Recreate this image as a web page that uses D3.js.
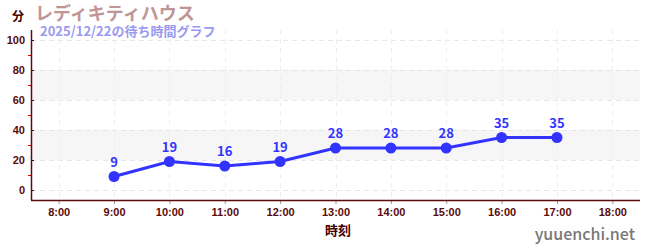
<!DOCTYPE html>
<html>
<head>
<meta charset="utf-8">
<script src="https://cdn.jsdelivr.net/npm/d3@7"></script>
<style>
    body { margin: 0; background: #fff; }
    svg { display: block; font-family: "Noto Sans CJK JP", "Noto Sans", sans-serif; }
</style>
</head>
<body>
<div id="chart"></div>
<script>
// chart data
const hours = [9, 10, 11, 12, 13, 14, 15, 16, 17];
const waits = [9, 19, 16, 19, 28, 28, 28, 35, 35];
const xTicks = [8, 9, 10, 11, 12, 13, 14, 15, 16, 17, 18];
const yTicks = [0, 20, 40, 60, 80, 100];
const yMinorTicks = [10, 30, 50, 70, 90];
const bands = [[20, 40], [60, 80]];
const title = 'レディキティハウス';
const subtitle = '2025/12/22の待ち時間グラフ';

const width = 650, height = 250;
const margin = { top: 30, right: 10, bottom: 50, left: 31 };
const axisColor = '#5a0a0a';
const lineColor = '#3333ff';

const svg = d3.select('#chart').append('svg')
    .attr('width', width)
    .attr('height', height);

const x = d3.scaleLinear()
    .domain([7.5, 18.5])
    .range([margin.left, width - margin.right]);

const y = d3.scaleLinear()
    .domain([-20 / 3, 320 / 3])
    .range([height - margin.bottom, margin.top]);

// alternating background bands
svg.append('g').selectAll('rect')
    .data(bands)
    .join('rect')
    .attr('x', x.range()[0])
    .attr('width', x.range()[1] - x.range()[0])
    .attr('y', d => y(d[1]))
    .attr('height', d => y(d[0]) - y(d[1]))
    .attr('fill', '#f6f6f6');

// dashed grid
svg.append('g').selectAll('line')
    .data(yTicks)
    .join('line')
    .attr('x1', x.range()[0])
    .attr('x2', x.range()[1])
    .attr('y1', d => y(d) + 0.5)
    .attr('y2', d => y(d) + 0.5)
    .attr('stroke', '#e6e6e6')
    .attr('stroke-dasharray', '5,4');

svg.append('g').selectAll('line')
    .data(xTicks)
    .join('line')
    .attr('x1', d => Math.round(x(d)) + 0.5)
    .attr('x2', d => Math.round(x(d)) + 0.5)
    .attr('y1', y.range()[1])
    .attr('y2', y.range()[0])
    .attr('stroke', '#eeeeee')
    .attr('stroke-dasharray', '5,4');

// y axis
const yAxis = svg.append('g')
    .attr('transform', `translate(${margin.left},0)`)
    .call(d3.axisLeft(y).tickValues(yTicks).tickSize(3).tickPadding(3));
yAxis.select('.domain').remove();
yAxis.selectAll('.tick line').attr('x2', 3).attr('stroke', axisColor);
yAxis.selectAll('.tick text')
    .attr('fill', axisColor)
    .style('font-size', '11px')
    .style('font-weight', 'bold');

svg.append('g').selectAll('line')
    .data(yMinorTicks)
    .join('line')
    .attr('x1', margin.left - 3)
    .attr('x2', margin.left)
    .attr('y1', d => y(d) + 0.5)
    .attr('y2', d => y(d) + 0.5)
    .attr('stroke', '#dd0000');

svg.append('line')
    .attr('x1', margin.left + 0.5)
    .attr('x2', margin.left + 0.5)
    .attr('y1', y.range()[1])
    .attr('y2', y.range()[0])
    .attr('stroke', axisColor)
    .attr('stroke-width', 1.5);

// x axis
const xAxis = svg.append('g')
    .attr('transform', `translate(0,${height - margin.bottom})`)
    .call(d3.axisBottom(x).tickValues(xTicks)
        .tickFormat(d => d + ':00').tickSize(4).tickPadding(4));
xAxis.select('.domain').remove();
xAxis.selectAll('.tick line').attr('stroke', '#999');
xAxis.selectAll('.tick text')
    .attr('fill', axisColor)
    .style('font-size', '11px')
    .style('font-weight', 'bold');

svg.append('line')
    .attr('x1', x.range()[0])
    .attr('x2', x.range()[1])
    .attr('y1', y.range()[0] + 0.5)
    .attr('y2', y.range()[0] + 0.5)
    .attr('stroke', axisColor)
    .attr('stroke-width', 1.5);

// line and points
const pts = hours.map((h, i) => ({ h, v: waits[i] }));

svg.append('path')
    .datum(pts)
    .attr('d', d3.line().x(d => x(d.h)).y(d => y(d.v)))
    .attr('fill', 'none')
    .attr('stroke', lineColor)
    .attr('stroke-width', 3);

svg.append('g').selectAll('circle')
    .data(pts)
    .join('circle')
    .attr('cx', d => x(d.h))
    .attr('cy', d => y(d.v))
    .attr('r', 5.5)
    .attr('fill', lineColor);

svg.append('g').selectAll('text')
    .data(pts)
    .join('text')
    .attr('x', d => x(d.h))
    .attr('y', d => y(d.v) - 10)
    .attr('text-anchor', 'middle')
    .attr('fill', lineColor)
    .style('font-size', '13px')
    .style('font-weight', 'bold')
    .text(d => d.v);

// titles and labels
svg.append('text')
    .attr('x', 12).attr('y', 21)
    .attr('fill', '#400')
    .style('font-size', '12px').style('font-weight', 'bold')
    .text('分');

svg.append('text')
    .attr('x', 35).attr('y', 20)
    .attr('fill', '#c09595')
    .style('font-size', '18px').style('font-weight', 'bold')
    .text(title);

svg.append('text')
    .attr('x', 40).attr('y', 36)
    .attr('fill', '#9a9af0')
    .style('font-size', '13px').style('font-weight', 'bold')
    .text(subtitle);

svg.append('text')
    .attr('x', 338).attr('y', 235)
    .attr('text-anchor', 'middle')
    .attr('fill', '#400')
    .style('font-size', '13px').style('font-weight', 'bold')
    .text('時刻');

svg.append('text')
    .attr('x', 635).attr('y', 240)
    .attr('text-anchor', 'end')
    .attr('fill', '#777')
    .style('font-size', '16px')
    .style('font-weight', '500')
    .text('yuuenchi.net');
</script>
</body>
</html>
